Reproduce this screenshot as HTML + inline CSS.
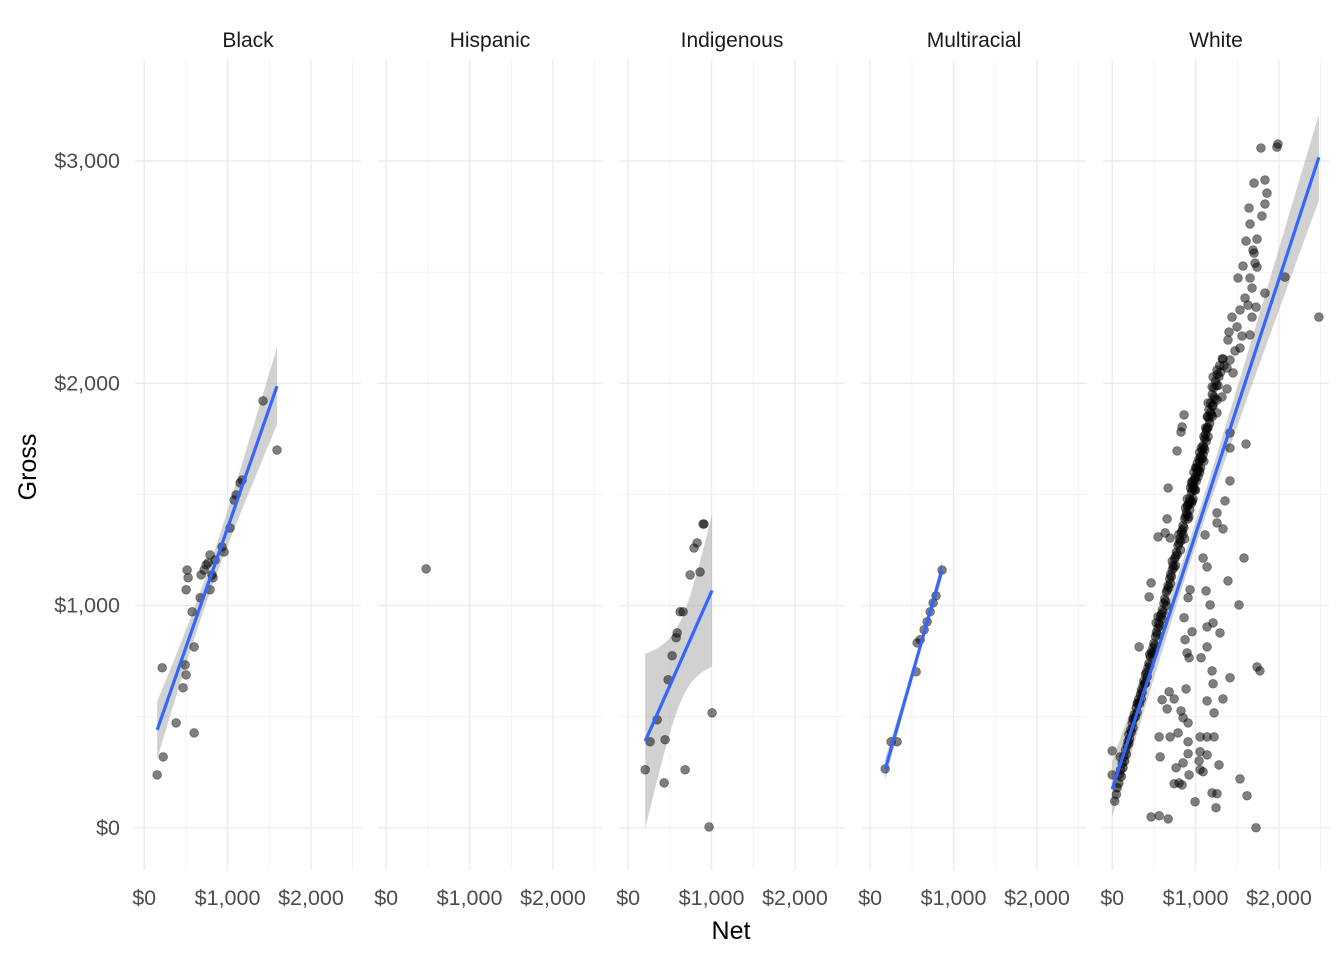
<!DOCTYPE html>
<html><head><meta charset="utf-8">
<style>
body{margin:0;background:#fff;}
svg{display:block;font-family:"Liberation Sans",Arial,sans-serif;}
</style></head>
<body>
<svg id="chart" width="1344" height="960" xmlns="http://www.w3.org/2000/svg"></svg>
<script>
const facets = ["Black","Hispanic","Indigenous","Multiracial","White"];
const xTicks = [0,1000,2000];
const xTickLabels = ["$0","$1,000","$2,000"];
const yTicks = [0,1000,2000,3000];
const yTickLabels = ["$0","$1,000","$2,000","$3,000"];
const blackPts = [[156,238],[228,319],[216,720],[383,472],[467,630],[491,733],[503,688],[503,1071],[515,1160],[527,1125],[575,972],[599,814],[599,427],[671,1035],[683,1138],[719,1160],[743,1183],[766,1192],[790,1228],[790,1071],[814,1138],[826,1125],[850,1205],[934,1264],[958,1241],[1030,1349],[1078,1475],[1102,1498],[1150,1552],[1174,1565],[1425,1921],[1593,1700]];
const hispanicPts = [[479,1165]];
const indigenousPts = [[204,261],[263,387],[347,486],[431,202],[443,396],[479,666],[527,774],[575,855],[587,877],[623,972],[659,972],[683,261],[743,1138],[790,1259],[826,1282],[862,1151],[898,1367],[910,1367],[970,4],[1006,517]];
const multiracialPts = [[180,265],[251,387],[323,387],[551,702],[563,832],[599,846],[647,891],[683,927],[719,972],[755,1012],[790,1044],[862,1160]];
const whitePts = [[671,1529],[467,1102],[443,1039],[323,814],[527,922],[1581,1214],[1389,1111],[1521,1003],[1737,724],[1772,706],[1413,675],[1198,706],[1210,648],[1329,580],[1138,571],[1222,517],[886,625],[683,612],[743,580],[599,576],[659,535],[826,526],[850,495],[563,409],[695,409],[790,427],[910,387],[1054,409],[1138,409],[1222,409],[1054,342],[1138,328],[910,333],[575,319],[766,270],[850,292],[802,202],[922,238],[1054,261],[1281,283],[1042,301],[1533,220],[1617,144],[1198,157],[1257,153],[1245,90],[994,117],[467,49],[563,54],[671,40],[1725,0],[0,346],[0,238],[96,319],[743,198],[838,193],[1090,252],[910,472],[1066,765],[922,765],[862,945],[958,882],[1138,814],[874,846],[898,787],[1138,904],[1210,922],[1293,877],[1174,1003],[1126,1066],[934,1071],[910,1035],[1090,1214],[1138,1174],[1114,1318],[1257,1417],[1329,1345],[1353,1471],[1413,1561],[1257,1372],[659,1390],[551,1309],[695,1304],[635,1327],
[1784,3059],[1988,3077],[1976,3063],[1701,2901],[1832,2915],[1856,2856],[1832,2807],[1796,2753],[1641,2789],[1653,2717],[1737,2649],[1605,2640],[1689,2600],[1701,2586],[1569,2528],[1737,2523],[1713,2541],[1509,2474],[1653,2474],[1677,2429],[2072,2478],[2479,2298],[1832,2406],[1593,2384],[1725,2343],[1437,2298],[1533,2330],[1629,2352],[1677,2298],[1401,2231],[1389,2195],[1497,2254],[1557,2213],[1653,2218],[1473,2146],[1533,2159],[1329,2110],[1413,2105],[1377,2069],[1449,2047],[1257,2060],[1210,2029],[1198,1984],[1377,1975],[1317,1939],[1257,1925],[1150,1912],[1257,1867],[862,1858],[838,1804],[826,1781],[778,1696],[1605,1727],[1413,1777],[1413,1709],
[30,120],[50,150],[60,180],[80,200],[90,240],[100,260],[110,230],[120,290],[130,270],[140,320],[150,300],[160,350],[170,330],[180,370],[190,390],[200,420],[210,400],[220,440],[230,430],[240,470],[250,450],[260,490],[270,510],[280,500],[290,540],[300,520],[310,560],[320,580],[330,560],[340,600],[350,620],[360,610],[370,640],[380,660],[390,650],[400,690],[410,700],[420,680],[430,720],[440,740],[450,730],[460,770],[470,790],[480,780],[490,810],[500,830],[510,820],[520,860],[530,880],[540,870],[550,900],[560,920],[570,910],[580,950],[590,960],[600,980],[610,970],[620,1010],[630,1030],[640,1020],[650,1060],[660,1070],[670,1090],[680,1080],[690,1120],[700,1140],[710,1130],[720,1160],[730,1180],[740,1170],[750,1210],[760,1220],[770,1240],[780,1230],[790,1270],[800,1280],[810,1300],[820,1290],[830,1330],[840,1340],[850,1360],[860,1350],[870,1390],[880,1400],[890,1420],[900,1410],[910,1450],[920,1460],[930,1480],[940,1470],[950,1510],[960,1520],[970,1540],[980,1530],[990,1570],[1000,1580],[1010,1560],[1020,1600],[1030,1620],[1040,1610],[1050,1650],[1060,1670],[1070,1660],[1080,1700],[1090,1720],[1100,1710],[1110,1750],[1120,1770],[1130,1790],[1140,1800],[1160,1840],[1180,1870],[1200,1900],[1220,1940],[1250,1990],[1280,2030],
[700,1100],[720,1200],[760,1180],[800,1320],[850,1320],[880,1440],[900,1450],[950,1460],[980,1600],[1000,1520],[1050,1600],[650,1000],[600,940],[550,950],[500,790],[450,780],[400,650],[350,580],[300,560],[250,490],[200,380],[820,1250],[870,1300],[920,1400],[960,1560],[1100,1650],[1150,1760],[1150,1850],[1200,1850],
[1010,1620],[1020,1640],[1030,1580],[1040,1660],[1050,1690],[1060,1620],[1070,1710],[1080,1660],[1090,1680],[1100,1760],[1110,1700],[1120,1800],[1130,1740],[1140,1850],[1150,1800],[1160,1880],[1170,1820],[1180,1910],[1190,1860],[1200,1950],[1210,1900],[1220,1980],[1230,1930],[1240,2010],[1260,2040],[1270,1990],[1290,2080],[1300,2050],[1320,2110],[1340,2080],
[900,1480],[910,1390],[930,1430],[950,1550],[970,1480],[990,1520],[940,1530],[960,1470],[980,1560],[1000,1620]];
const facetData = [blackPts, hispanicPts, indigenousPts, multiracialPts, whitePts];

const NS = "http://www.w3.org/2000/svg";
const svg = document.getElementById("chart");
const panelW = 226, panelGap = 16, panelLeft0 = 135, panelTop = 60, panelBottom = 870;
const xMin = -110, xMax = 2600, yMin = -190, yMax = 3455;
function xScale(i, v){ return panelLeft0 + i*(panelW+panelGap) + (v - xMin)/(xMax - xMin)*panelW; }
function yScale(v){ return panelBottom - (v - yMin)/(yMax - yMin)*(panelBottom - panelTop); }
function mk(tag, attrs, parent){ const e = document.createElementNS(NS, tag); for (const k in attrs) e.setAttribute(k, attrs[k]); (parent||svg).appendChild(e); return e; }
function tq(df){ return 1.96 + 2.4/df + 3.0/(df*df); }

facets.forEach((name, i) => {
  const g = mk("g", {});
  
  
  const L = panelLeft0 + i*(panelW+panelGap);
  [500,1500,2500].forEach(v => { const x = xScale(i,v); mk("line",{x1:x,x2:x,y1:panelTop,y2:panelBottom,stroke:"#f0f0f0","stroke-width":0.8},g); });
  [500,1500,2500].forEach(v => { const y = yScale(v); mk("line",{x1:L,x2:L+panelW,y1:y,y2:y,stroke:"#f0f0f0","stroke-width":0.8},g); });
  xTicks.forEach(v => { const x = xScale(i,v); mk("line",{x1:x,x2:x,y1:panelTop,y2:panelBottom,stroke:"#ebebeb","stroke-width":1.4},g); });
  yTicks.forEach(v => { const y = yScale(v); mk("line",{x1:L,x2:L+panelW,y1:y,y2:y,stroke:"#ebebeb","stroke-width":1.4},g); });
  const st = mk("text",{x:L+panelW/2,y:47,"text-anchor":"middle","font-size":21,fill:"#1a1a1a"},g);
  st.textContent = name;
  
  
  xTicks.forEach((v,k) => {
    const t = mk("text",{x:xScale(i,v),y:905,"text-anchor":"middle","font-size":21.5,fill:"#4d4d4d"},g);
    t.textContent = xTickLabels[k];
    
    
  });
  const pts = facetData[i];
  const n = pts.length;
  const drawPts = () => pts.forEach(p => {
      const c = mk("circle",{cx:xScale(i,p[0]),cy:yScale(p[1]),r:4.4,fill:"#000","fill-opacity":0.5,stroke:"#000","stroke-opacity":0.4,"stroke-width":0.8},g);
      
      
  });
  if (n > 2) {
    const mx = pts.reduce((s,p)=>s+p[0],0)/n, my = pts.reduce((s,p)=>s+p[1],0)/n;
    let sxx=0, sxy=0; pts.forEach(p=>{sxx+=(p[0]-mx)**2; sxy+=(p[0]-mx)*(p[1]-my);});
    const b = sxy/sxx, a = my - b*mx;
    let sse=0; pts.forEach(p=>{sse+=(p[1]-a-b*p[0])**2;});
    const s = Math.sqrt(sse/(n-2)), t = tq(n-2);
    const x0 = Math.min(...pts.map(p=>p[0])), x1 = Math.max(...pts.map(p=>p[0]));
    const up=[], lo=[];
    for (let k=0;k<=60;k++){ const xv = x0 + (x1-x0)*k/60; const fit=a+b*xv; const se = s*Math.sqrt(1/n + (xv-mx)**2/sxx);
      up.push(xScale(i,xv).toFixed(1)+","+yScale(fit+t*se).toFixed(1)); lo.unshift(xScale(i,xv).toFixed(1)+","+yScale(fit-t*se).toFixed(1)); }
    const band = mk("polygon",{points:up.concat(lo).join(" "),fill:"#999999","fill-opacity":0.45},g);
    
    
    drawPts();
    const ln = mk("line",{x1:xScale(i,x0),y1:yScale(a+b*x0),x2:xScale(i,x1),y2:yScale(a+b*x1),stroke:"#3366FF","stroke-width":3.2},g);
    
    
  } else {
    drawPts();
  }
});
yTicks.forEach((v,k) => {
  const t = mk("text",{x:120,y:yScale(v)+7,"text-anchor":"end","font-size":21.5,fill:"#4d4d4d"});
  t.textContent = yTickLabels[k];
  
  
});
const xt = mk("text",{x:731,y:939,"text-anchor":"middle","font-size":25,fill:"#000"});
xt.textContent = "Net";


const yt = mk("text",{x:0,y:0,"text-anchor":"middle","font-size":25,fill:"#000",transform:"translate(36,467) rotate(-90)"});
yt.textContent = "Gross";


</script>
</body></html>
